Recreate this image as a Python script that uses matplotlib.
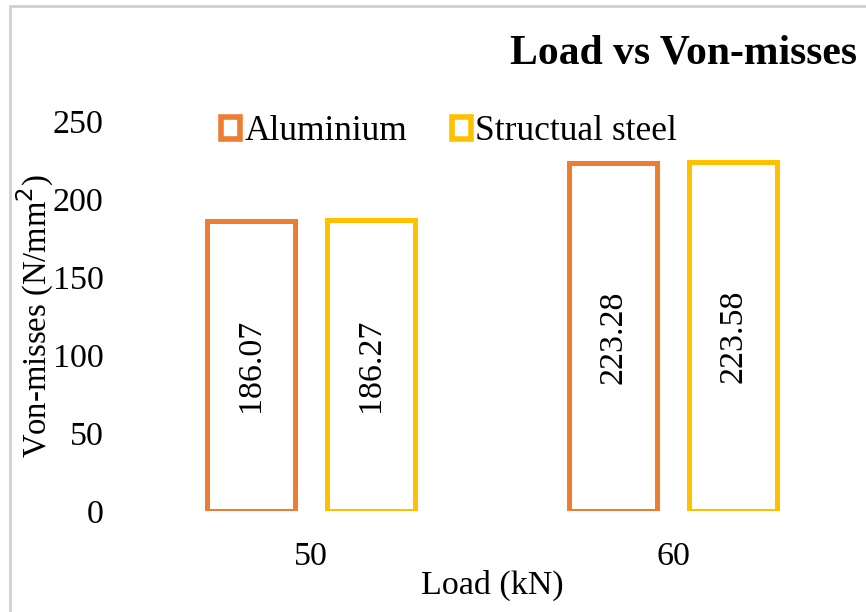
import numpy as np
import matplotlib.pyplot as plt
from matplotlib.patches import Patch, Rectangle

# data
loads = ['50', '60']
aluminium = [186.07, 223.28]
steel = [186.27, 223.58]
series_names = ['Aluminium', 'Structual steel']
colors = ['#ED7D31', '#FFC000']

plt.rcParams['font.family'] = ['Liberation Serif', 'DejaVu Serif']
fs = 24.5

fig = plt.figure(figsize=(8.66, 6.12), dpi=100)
ax = fig.add_axes([130 / 866, 1 - 511 / 612, 724 / 866, 390 / 612])

x = np.arange(len(loads))
width = 0.245
offset = 0.166

for vals, dx, col in zip([aluminium, steel], [-offset, offset], colors):
    bars = ax.bar(x + dx, vals, width=width, facecolor='white',
                  edgecolor=col, linewidth=3.6)
    for b, v in zip(bars, vals):
        ax.text(b.get_x() + b.get_width() / 2, v / 2, '{:.2f}'.format(v),
                rotation=90, ha='center', va='center', fontsize=fs)

ax.set_xlim(-0.5, 1.5)
ax.set_ylim(0, 250)
ax.set_yticks([0, 50, 100, 150, 200, 250])
ax.set_xticks(x)
ax.set_xticklabels(loads)
ax.tick_params(length=0, labelsize=fs)
ax.tick_params(axis='y', pad=19)
ax.tick_params(axis='x', pad=22)
for s in ax.spines.values():
    s.set_visible(False)

ax.set_xlabel('Load (kN)', fontsize=fs, labelpad=-2)
ax.set_ylabel('Von-misses (N/mm$^2$)', fontsize=23.5)
ax.yaxis.set_label_coords(-0.102, 0.5)

# title sits to the right and runs off the edge
fig.text(510 / 866, 1 - 53 / 612, 'Load vs Von-misses', fontsize=30,
         fontweight='bold', ha='left', va='center')

handles = [Patch(facecolor='white', edgecolor=c, linewidth=4) for c in colors]
fig.legend(handles, series_names, loc='center left',
           bbox_to_anchor=(221 / 866, 1 - 132 / 612), ncol=2, frameon=False,
           fontsize=25.5, handlelength=0.55, handleheight=0.55,
           handletextpad=0.12, columnspacing=1.25, borderaxespad=0,
           borderpad=0)

# outer frame
fig.patches.append(Rectangle((10 / 866, -0.05), 1.2, 1 - 6 / 612 + 0.05,
                             transform=fig.transFigure, fill=False,
                             edgecolor='#D0D0D0', linewidth=2))

fig.savefig('out.png', dpi=100)
